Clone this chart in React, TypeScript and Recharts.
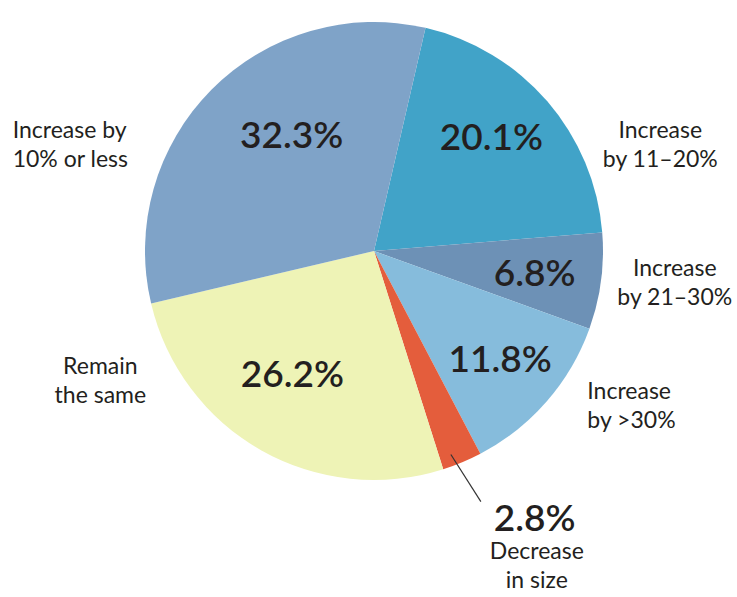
import React from 'react';
import { PieChart, Pie, Cell } from 'recharts';

// Slices in clockwise order starting from the top
const categoryLines: string[][] = [
  ['Increase', 'by 11–20%'],
  ['Increase', 'by 21–30%'],
  ['Increase', 'by >30%'],
  ['Decrease', 'in size'],
  ['Remain', 'the same'],
  ['Increase by', '10% or less'],
];
const shares: number[] = [20.1, 6.8, 11.8, 2.8, 26.2, 32.3];
const colors: string[] = ['#41a3c8', '#6d91b6', '#86bcdc', '#e45d3c', '#eef3b6', '#7fa3c8'];

// label placement relative to each slice's mid angle (radius factor, angle nudge in degrees)
const labelLayout = [
  { pR: 0.72, pA: 3.8, cR: 1.335, cA: -20.3, anchor: 'middle' },
  { pR: 0.707, pA: 0.5, cR: 1.32, cA: 1.9, anchor: 'middle' },
  { pR: 0.72, pA: 1, cR: 1.147, cA: 5.4, anchor: 'start' },
  { pR: 1.356, pA: 8.5, cR: 1.543, cA: 4.8, anchor: 'middle' },
  { pR: 0.64, pA: -4.3, cR: 1.32, cA: -35.3, anchor: 'middle' },
  { pR: 0.625, pA: -10, cR: 1.646, cA: 28.3, anchor: 'start' },
];
const leader = { index: 3, r1: 0.95, a1: -1.95, r2: 1.19, a2: 0.45 };

const data = shares.map((v, i) => ({ name: categoryLines[i].join(' '), value: v }));

const RAD = Math.PI / 180;
const FONT = 'Lato, "Open Sans", sans-serif';
const polar = (cx: number, cy: number, r: number, a: number) => ({
  x: cx + r * Math.cos(-a * RAD),
  y: cy + r * Math.sin(-a * RAD),
});

const renderLabel = (props: any) => {
  const { cx, cy, midAngle, outerRadius, index } = props;
  const L = labelLayout[index];
  const p = polar(cx, cy, outerRadius * L.pR, midAngle + L.pA);
  const c = polar(cx, cy, outerRadius * L.cR, midAngle + L.cA);
  const lines = categoryLines[index];
  const lh = 29;
  return (
    <g key={`lbl-${index}`}>
      {index === leader.index && (() => {
        const s = polar(cx, cy, outerRadius * leader.r1, midAngle + leader.a1);
        const e = polar(cx, cy, outerRadius * leader.r2, midAngle + leader.a2);
        return <line x1={s.x} y1={s.y} x2={e.x} y2={e.y} stroke="#333" strokeWidth={1.2} />;
      })()}
      <text
        x={p.x}
        y={p.y}
        textAnchor="middle"
        dominantBaseline="central"
        fontFamily={FONT}
        fontSize={37}
        fontWeight={600}
        fill="#231f20"
      >
        {shares[index].toFixed(1)}%
      </text>
      {lines.map((ln, k) => (
        <text
          key={k}
          x={c.x}
          y={c.y + (k - (lines.length - 1) / 2) * lh}
          textAnchor={L.anchor}
          dominantBaseline="central"
          fontFamily={FONT}
          fontSize={23}
          fill="#231f20"
        >
          {ln}
        </text>
      ))}
    </g>
  );
};

export default function App() {
  return (
    <div style={{ position: 'absolute', left: 0, top: 0, width: 737, height: 597, background: '#fff' }}>
      <PieChart width={737} height={597} margin={{ top: 0, right: 0, bottom: 0, left: 0 }}>
        <Pie
          data={data}
          dataKey="value"
          nameKey="name"
          cx={374}
          cy={251}
          outerRadius={229}
          startAngle={77}
          endAngle={-283}
          stroke="none"
          label={renderLabel}
          labelLine={false}
          isAnimationActive={false}
        >
          {data.map((d, i) => (
            <Cell key={d.name} fill={colors[i]} />
          ))}
        </Pie>
      </PieChart>
    </div>
  );
}
